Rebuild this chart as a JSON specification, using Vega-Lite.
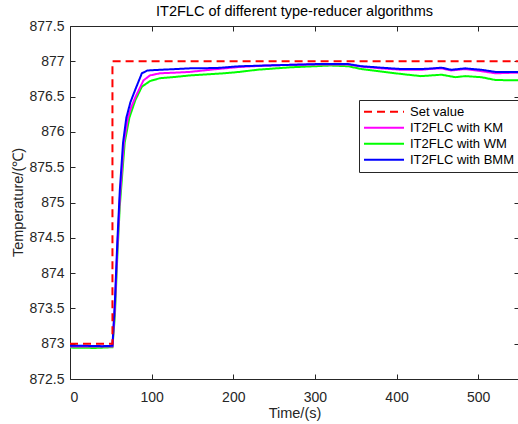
{
  "$schema": "https://vega.github.io/schema/vega-lite/v6.json",
  "width": 449,
  "height": 353,
  "autosize": {"type": "none"},
  "padding": {"left": 70, "top": 26, "right": 0, "bottom": 45},
  "background": "white",
  "title": {"text": "IT2FLC of different type-reducer algorithms", "fontSize": 14.5, "fontWeight": "normal", "font": "Liberation Sans", "color": "#000000", "offset": 0},
  "config": {
    "view": {"stroke": null},
    "axis": {"grid": false, "domainColor": "#262626", "tickColor": "#262626", "labelColor": "#262626", "titleColor": "#262626", "labelFont": "Liberation Sans", "titleFont": "Liberation Sans", "labelFontSize": 14, "titleFontSize": 14.5, "titleFontWeight": "normal", "tickSize": -5, "domainWidth": 1, "tickWidth": 1}
  },
  "data": {"values": [
    {"s": "Set value", "o": 1, "t": 0, "v": 873},
    {"s": "Set value", "o": 2, "t": 52, "v": 873},
    {"s": "Set value", "o": 3, "t": 52, "v": 877},
    {"s": "Set value", "o": 4, "t": 550, "v": 877},

    {"s": "IT2FLC with BMM", "t": 0, "v": 872.97},
    {"s": "IT2FLC with BMM", "t": 20, "v": 872.97},
    {"s": "IT2FLC with BMM", "t": 40, "v": 872.965},
    {"s": "IT2FLC with BMM", "t": 52, "v": 872.97},
    {"s": "IT2FLC with BMM", "t": 55, "v": 873.6},
    {"s": "IT2FLC with BMM", "t": 58, "v": 874.45},
    {"s": "IT2FLC with BMM", "t": 61, "v": 875.17},
    {"s": "IT2FLC with BMM", "t": 65, "v": 875.85},
    {"s": "IT2FLC with BMM", "t": 69, "v": 876.2},
    {"s": "IT2FLC with BMM", "t": 74, "v": 876.42},
    {"s": "IT2FLC with BMM", "t": 80, "v": 876.6},
    {"s": "IT2FLC with BMM", "t": 88, "v": 876.83},
    {"s": "IT2FLC with BMM", "t": 95, "v": 876.87},
    {"s": "IT2FLC with BMM", "t": 110, "v": 876.88},
    {"s": "IT2FLC with BMM", "t": 130, "v": 876.89},
    {"s": "IT2FLC with BMM", "t": 147, "v": 876.9},
    {"s": "IT2FLC with BMM", "t": 180, "v": 876.905},
    {"s": "IT2FLC with BMM", "t": 208, "v": 876.93},
    {"s": "IT2FLC with BMM", "t": 240, "v": 876.94},
    {"s": "IT2FLC with BMM", "t": 270, "v": 876.95},
    {"s": "IT2FLC with BMM", "t": 300, "v": 876.96},
    {"s": "IT2FLC with BMM", "t": 319, "v": 876.96},
    {"s": "IT2FLC with BMM", "t": 341, "v": 876.96},
    {"s": "IT2FLC with BMM", "t": 357, "v": 876.93},
    {"s": "IT2FLC with BMM", "t": 381, "v": 876.91},
    {"s": "IT2FLC with BMM", "t": 406, "v": 876.89},
    {"s": "IT2FLC with BMM", "t": 430, "v": 876.89},
    {"s": "IT2FLC with BMM", "t": 445, "v": 876.9},
    {"s": "IT2FLC with BMM", "t": 455, "v": 876.91},
    {"s": "IT2FLC with BMM", "t": 467, "v": 876.88},
    {"s": "IT2FLC with BMM", "t": 484, "v": 876.9},
    {"s": "IT2FLC with BMM", "t": 504, "v": 876.88},
    {"s": "IT2FLC with BMM", "t": 521, "v": 876.85},
    {"s": "IT2FLC with BMM", "t": 550, "v": 876.85},

    {"s": "IT2FLC with KM", "t": 0, "v": 872.96},
    {"s": "IT2FLC with KM", "t": 52, "v": 872.96},
    {"s": "IT2FLC with KM", "t": 55, "v": 873.5},
    {"s": "IT2FLC with KM", "t": 58, "v": 874.35},
    {"s": "IT2FLC with KM", "t": 61, "v": 875.05},
    {"s": "IT2FLC with KM", "t": 66, "v": 875.85},
    {"s": "IT2FLC with KM", "t": 71, "v": 876.2},
    {"s": "IT2FLC with KM", "t": 75, "v": 876.35},
    {"s": "IT2FLC with KM", "t": 80, "v": 876.49},
    {"s": "IT2FLC with KM", "t": 90, "v": 876.73},
    {"s": "IT2FLC with KM", "t": 98, "v": 876.8},
    {"s": "IT2FLC with KM", "t": 110, "v": 876.83},
    {"s": "IT2FLC with KM", "t": 130, "v": 876.84},
    {"s": "IT2FLC with KM", "t": 147, "v": 876.85},
    {"s": "IT2FLC with KM", "t": 180, "v": 876.89},
    {"s": "IT2FLC with KM", "t": 208, "v": 876.92},
    {"s": "IT2FLC with KM", "t": 240, "v": 876.94},
    {"s": "IT2FLC with KM", "t": 270, "v": 876.95},
    {"s": "IT2FLC with KM", "t": 300, "v": 876.955},
    {"s": "IT2FLC with KM", "t": 319, "v": 876.955},
    {"s": "IT2FLC with KM", "t": 341, "v": 876.955},
    {"s": "IT2FLC with KM", "t": 357, "v": 876.925},
    {"s": "IT2FLC with KM", "t": 381, "v": 876.9},
    {"s": "IT2FLC with KM", "t": 406, "v": 876.88},
    {"s": "IT2FLC with KM", "t": 430, "v": 876.88},
    {"s": "IT2FLC with KM", "t": 445, "v": 876.895},
    {"s": "IT2FLC with KM", "t": 455, "v": 876.9},
    {"s": "IT2FLC with KM", "t": 467, "v": 876.87},
    {"s": "IT2FLC with KM", "t": 484, "v": 876.89},
    {"s": "IT2FLC with KM", "t": 504, "v": 876.86},
    {"s": "IT2FLC with KM", "t": 521, "v": 876.83},
    {"s": "IT2FLC with KM", "t": 550, "v": 876.84},

    {"s": "IT2FLC with WM", "t": 0, "v": 872.945},
    {"s": "IT2FLC with WM", "t": 30, "v": 872.94},
    {"s": "IT2FLC with WM", "t": 52, "v": 872.95},
    {"s": "IT2FLC with WM", "t": 55, "v": 873.4},
    {"s": "IT2FLC with WM", "t": 58, "v": 874.25},
    {"s": "IT2FLC with WM", "t": 61, "v": 874.95},
    {"s": "IT2FLC with WM", "t": 67, "v": 875.85},
    {"s": "IT2FLC with WM", "t": 72.7, "v": 876.2},
    {"s": "IT2FLC with WM", "t": 80, "v": 876.45},
    {"s": "IT2FLC with WM", "t": 88, "v": 876.64},
    {"s": "IT2FLC with WM", "t": 98, "v": 876.72},
    {"s": "IT2FLC with WM", "t": 110, "v": 876.76},
    {"s": "IT2FLC with WM", "t": 130, "v": 876.78},
    {"s": "IT2FLC with WM", "t": 147, "v": 876.8},
    {"s": "IT2FLC with WM", "t": 188, "v": 876.83},
    {"s": "IT2FLC with WM", "t": 208, "v": 876.85},
    {"s": "IT2FLC with WM", "t": 229, "v": 876.88},
    {"s": "IT2FLC with WM", "t": 270, "v": 876.915},
    {"s": "IT2FLC with WM", "t": 319, "v": 876.94},
    {"s": "IT2FLC with WM", "t": 341, "v": 876.93},
    {"s": "IT2FLC with WM", "t": 357, "v": 876.89},
    {"s": "IT2FLC with WM", "t": 381, "v": 876.855},
    {"s": "IT2FLC with WM", "t": 406, "v": 876.82},
    {"s": "IT2FLC with WM", "t": 430, "v": 876.79},
    {"s": "IT2FLC with WM", "t": 455, "v": 876.81},
    {"s": "IT2FLC with WM", "t": 472, "v": 876.775},
    {"s": "IT2FLC with WM", "t": 484, "v": 876.79},
    {"s": "IT2FLC with WM", "t": 504, "v": 876.775},
    {"s": "IT2FLC with WM", "t": 521, "v": 876.735},
    {"s": "IT2FLC with WM", "t": 550, "v": 876.73}
  ]},
  "layer": [
    {
      "transform": [{"filter": "datum.s === 'IT2FLC with WM'"}],
      "mark": {"type": "line", "strokeWidth": 2, "clip": true},
      "encoding": {
        "x": {"field": "t", "type": "quantitative", "scale": {"domain": [0, 550], "nice": false, "zero": false},
              "axis": {"orient": "bottom", "values": [0, 100, 200, 300, 400, 500], "title": "Time/(s)", "labelPadding": 16, "titleY": 34, "titleBaseline": "middle"}},
        "y": {"field": "v", "type": "quantitative", "scale": {"domain": [872.5, 877.5], "nice": false, "zero": false},
              "axis": {"orient": "left", "values": [872.5, 873, 873.5, 874, 874.5, 875, 875.5, 876, 876.5, 877, 877.5], "format": "~g", "title": "Temperature/(℃)", "labelPadding": 11, "titleX": -52, "titleY": 176, "titleBaseline": "middle", "titleAngle": -90}},
        "color": {"field": "s", "type": "nominal",
                  "scale": {"domain": ["Set value", "IT2FLC with KM", "IT2FLC with WM", "IT2FLC with BMM"], "range": ["#ff0000", "#ff00ff", "#00ff00", "#0000ff"]},
                  "legend": {"title": null, "orient": "none", "legendX": 289, "legendY": 74, "symbolType": "stroke", "symbolSize": 1600, "symbolStrokeWidth": 2, "labelFont": "Liberation Sans", "labelFontSize": 13, "labelColor": "#000000", "labelOffset": 5, "padding": 4, "rowPadding": 0, "clipHeight": 15.5, "strokeColor": "#262626", "fillColor": "#ffffff", "cornerRadius": 0}},
        "strokeDash": {"field": "s", "type": "nominal",
                  "scale": {"domain": ["Set value", "IT2FLC with KM", "IT2FLC with WM", "IT2FLC with BMM"], "range": [[8, 5], [1, 0], [1, 0], [1, 0]]}}
      }
    },
    {
      "transform": [{"filter": "datum.s === 'IT2FLC with KM'"}],
      "mark": {"type": "line", "strokeWidth": 2, "clip": true},
      "encoding": {
        "x": {"field": "t", "type": "quantitative", "axis": {"orient": "top", "values": [0, 100, 200, 300, 400, 500], "labels": false, "title": null}},
        "y": {"field": "v", "type": "quantitative", "axis": {"orient": "right", "values": [872.5, 873, 873.5, 874, 874.5, 875, 875.5, 876, 876.5, 877, 877.5], "labels": false, "title": null}},
        "color": {"field": "s", "type": "nominal"},
        "strokeDash": {"field": "s", "type": "nominal"}
      }
    },
    {
      "transform": [{"filter": "datum.s === 'IT2FLC with BMM'"}],
      "mark": {"type": "line", "strokeWidth": 2, "clip": true},
      "encoding": {
        "x": {"field": "t", "type": "quantitative", "axis": null},
        "y": {"field": "v", "type": "quantitative", "axis": null},
        "color": {"field": "s", "type": "nominal"},
        "strokeDash": {"field": "s", "type": "nominal"}
      }
    },
    {
      "transform": [{"filter": "datum.s === 'Set value'"}],
      "mark": {"type": "line", "strokeWidth": 2, "clip": true},
      "encoding": {
        "x": {"field": "t", "type": "quantitative", "axis": null},
        "y": {"field": "v", "type": "quantitative", "axis": null},
        "order": {"field": "o", "type": "quantitative"},
        "color": {"field": "s", "type": "nominal"},
        "strokeDash": {"field": "s", "type": "nominal"}
      }
    }
  ]
}
